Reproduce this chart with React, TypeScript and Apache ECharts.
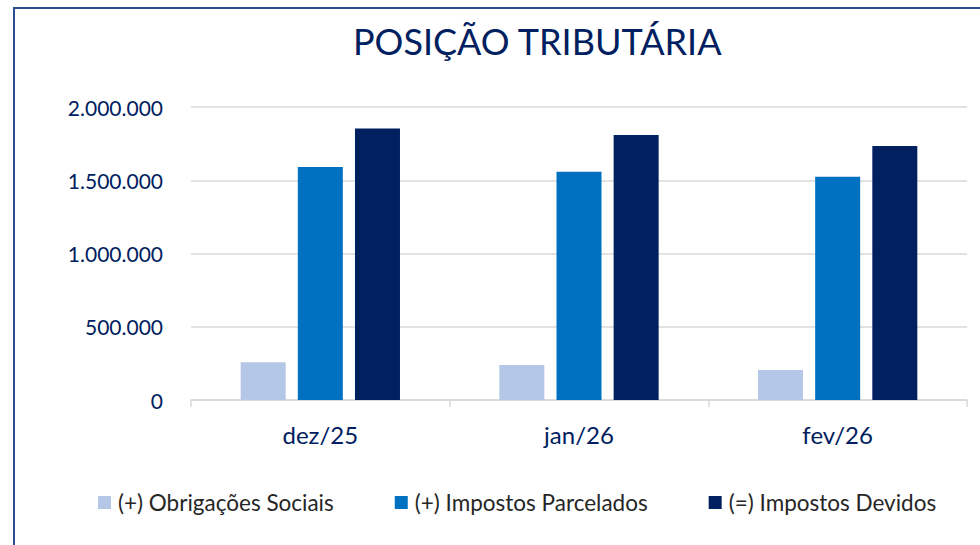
import React, { useEffect, useRef } from "react";
import * as echarts from "echarts";

const categories = ["dez/25", "jan/26", "fev/26"];
const seriesNames = ["(+) Obrigações Sociais", "(+) Impostos Parcelados", "(=) Impostos Devidos"];
const obrigacoesSociais = [257000, 239000, 205000];
const impostosParcelados = [1590000, 1558000, 1524000];
const impostosDevidos = [1854000, 1809000, 1734000];
const colors = ["#B4C7E7", "#0070C0", "#002060"];
const titleText = "POSIÇÃO TRIBUTÁRIA";

const FONT = "Lato, 'Noto Sans', sans-serif";

function fmt(v: number): string {
  return String(Math.round(v)).replace(/\B(?=(\d{3})+(?!\d))/g, ".");
}

export default function App() {
  const ref = useRef<HTMLDivElement>(null);
  useEffect(() => {
    if (!ref.current) return;
    const chart = echarts.init(ref.current, null, { renderer: "svg" });
    const values = [obrigacoesSociais, impostosParcelados, impostosDevidos];
    chart.setOption({
      animation: false,
      backgroundColor: "#ffffff",
      textStyle: { fontFamily: FONT },
      title: {
        text: titleText,
        left: 348,
        top: 18,
        textStyle: { fontFamily: FONT, fontSize: 36, fontWeight: "normal", color: "#002060" },
      },
      graphic: [
        {
          type: "rect",
          shape: { x: 14, y: 8, width: 1100, height: 700 },
          style: { fill: "none", stroke: "#2E4B8C", lineWidth: 2 },
          silent: true,
          z: 100,
        },
      ],
      legend: {
        left: 93,
        top: 486,
        itemWidth: 13,
        itemHeight: 13,
        itemGap: 61,
        icon: "rect",
        textStyle: { fontFamily: FONT, fontSize: 22.5, color: "#262626", padding: [0, 0, 0, 2] },
        data: seriesNames,
      },
      grid: { left: 191, right: 13, top: 107, bottom: 145, containLabel: false },
      xAxis: {
        type: "category",
        data: categories,
        axisLine: { lineStyle: { color: "#D9D9D9", width: 1.5 } },
        axisTick: { show: true, length: 7, lineStyle: { color: "#D9D9D9", width: 1.5 } },
        axisLabel: { fontFamily: FONT, fontSize: 24, color: "#002060", margin: 22 },
      },
      yAxis: {
        type: "value",
        min: 0,
        max: 2000000,
        interval: 500000,
        axisLine: { show: false },
        axisTick: { show: false },
        splitLine: { lineStyle: { color: "#D9D9D9", width: 1.5 } },
        axisLabel: {
          fontFamily: FONT,
          fontSize: 21,
          color: "#002060",
          margin: 28,
          formatter: (v: number) => fmt(v),
        },
      },
      series: seriesNames.map((name, i) => ({
        name,
        type: "bar",
        data: values[i],
        barWidth: 45,
        barGap: "27%",
        itemStyle: { color: colors[i] },
      })),
    });
    return () => chart.dispose();
  }, []);
  return <div ref={ref} style={{ width: 980, height: 545, position: "absolute", left: 0, top: 0 }} />;
}
